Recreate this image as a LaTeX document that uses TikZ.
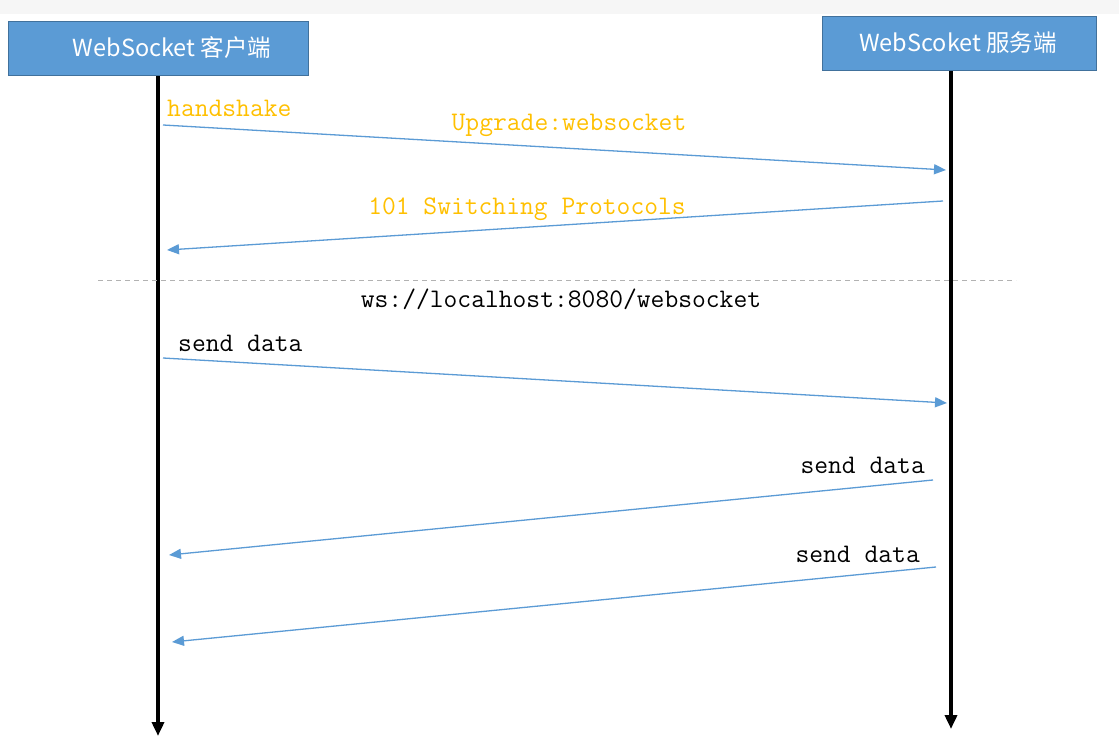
\documentclass[tikz,border=0pt]{standalone}
\usepackage{fontspec}
\newfontfamily\cjk{Noto Sans CJK SC}
\usetikzlibrary{arrows.meta}
\definecolor{msgblue}{RGB}{91,155,213}
\definecolor{boxblue}{RGB}{91,155,213}
\definecolor{boxedge}{RGB}{65,113,156}
\definecolor{gold}{RGB}{255,192,0}
\definecolor{topgray}{RGB}{246,246,246}
\tikzset{
  actor/.style={draw=boxedge, line width=1pt, fill=boxblue, inner sep=0pt},
  actortext/.style={text=white, font=\cjk\fontsize{23.5}{23.5}\selectfont, inner sep=0pt},
  lifeline/.style={line width=3.5pt, -{Triangle[length=14pt,width=12pt]}},
  msg/.style={draw=msgblue, line width=1.3pt, -{Triangle[length=12pt,width=10pt]}},
  codetext/.style={font=\ttfamily\fontsize{26.8}{26.8}\selectfont, inner sep=0pt},
}
\begin{document}
\begin{tikzpicture}[x=1pt,y=-1pt]
\useasboundingbox (0,0) rectangle (1119,743);
\fill[white] (0,0) rectangle (1119,743);
\fill[topgray] (0,0) rectangle (1119,14);
% actors
\node[actor, minimum width=300pt, minimum height=54pt] (client) at (158,49) {};
\node[actortext] (clientlbl) at (172,48) {WebSocket 客户端};
\node[actor, minimum width=274pt, minimum height=54pt] (server) at (959,44) {};
\node[actortext] (serverlbl) at (958,43) {WebScoket 服务端};
% lifelines
\coordinate (cbot) at (158,736);
\coordinate (sbot) at (951,729);
\draw[lifeline] (client.south -| cbot) -- (cbot);
\draw[lifeline] (server.south -| sbot) -- (sbot);
% message endpoints
\coordinate (m1a) at (163,125); \coordinate (m1b) at (946,170);
\coordinate (m2a) at (943,201); \coordinate (m2b) at (167,250);
\coordinate (m3a) at (163,358); \coordinate (m3b) at (947,403);
\coordinate (m4a) at (933,480); \coordinate (m4b) at (169,555);
\coordinate (m5a) at (936,567); \coordinate (m5b) at (172,642);
\draw[msg] (m1a) -- (m1b);
\draw[msg] (m2a) -- (m2b);
\draw[msg] (m3a) -- (m3b);
\draw[msg] (m4a) -- (m4b);
\draw[msg] (m5a) -- (m5b);
% separator
\coordinate (sepl) at (98,280); \coordinate (sepr) at (1016,280);
\draw[gray!60, dashed, line width=0.8pt, dash pattern=on 5pt off 4pt] (sepl) -- (sepr);
% labels
\node[codetext, text=gold, anchor=west] (hs) at (167,108) {handshake};
\node[codetext, text=gold] (upg) at (569,125) {Upgrade:websocket};
\node[codetext, text=gold] (sw) at (527,209) {101 Switching Protocols};
\node[codetext] (url) at (561,299) {ws://localhost:8080/websocket};
\node[codetext, anchor=west] (sd1) at (178,343) {send data};
\node[codetext, anchor=east] (sd2) at (925,465) {send data};
\node[codetext, anchor=east] (sd3) at (920,554) {send data};
\end{tikzpicture}
\end{document}
